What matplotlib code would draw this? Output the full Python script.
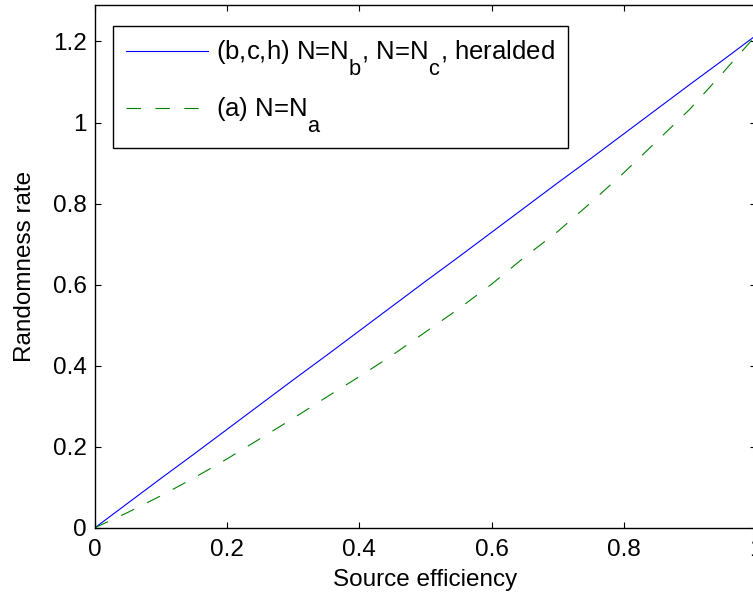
import numpy as np
import matplotlib
matplotlib.use("Agg")
import matplotlib.pyplot as plt
import matplotlib._mathtext as mathtext_internal

plt.rcParams["font.family"] = ["Liberation Sans", "DejaVu Sans"]
plt.rcParams["mathtext.default"] = "regular"
# larger, lower subscripts, closer to the original plotting tool
mathtext_internal.SHRINK_FACTOR = 0.85
mathtext_internal.FontConstantsBase.sub1 = 1.15

# source efficiency grid and the two randomness-rate curves
efficiency = [0.0, 0.05, 0.10, 0.15, 0.20, 0.25, 0.30, 0.35, 0.40, 0.45, 0.50,
              0.55, 0.60, 0.65, 0.70, 0.75, 0.80, 0.85, 0.90, 0.95, 1.0]
rate_bch = [0.0, 0.061, 0.122, 0.182, 0.243, 0.304, 0.365, 0.425, 0.486, 0.547, 0.608,
            0.668, 0.729, 0.790, 0.851, 0.911, 0.972, 1.033, 1.094, 1.154, 1.215]
rate_a = [0.0, 0.038, 0.079, 0.123, 0.170, 0.220, 0.270, 0.322, 0.373, 0.426, 0.483,
          0.540, 0.601, 0.668, 0.731, 0.802, 0.876, 0.954, 1.033, 1.123, 1.215]

label_bch = "(b,c,h) N=N$_b$, N=N$_c$, heralded"
label_a = "(a) N=N$_a$"

xticks = [0, 0.2, 0.4, 0.6, 0.8, 1.0]
xticklabels = ["0", "0.2", "0.4", "0.6", "0.8", "1"]
yticks = [0, 0.2, 0.4, 0.6, 0.8, 1.0, 1.2]
yticklabels = ["0", "0.2", "0.4", "0.6", "0.8", "1", "1.2"]

FS = 17.5
LEG_FS = 18.5

W, H = 753, 600
fig = plt.figure(figsize=(W / 100, H / 100), dpi=100)
# axes runs slightly past the right edge of the canvas
left, right, top, bottom = 95, 756, 5, 527.7
ax = fig.add_axes([left / W, 1 - bottom / H, (right - left) / W, (bottom - top) / H])

ax.plot(efficiency, rate_bch, color="#0000ff", lw=0.8, label=label_bch)
ax.plot(efficiency, rate_a, color="#008000", lw=0.8, ls=(0, (13, 13)), label=label_a)

ax.set_xlim(0, 1)
ax.set_ylim(0, 1.29)
ax.set_xticks(xticks)
ax.set_xticklabels(xticklabels)
ax.set_yticks(yticks)
ax.set_yticklabels(yticklabels)
ax.tick_params(direction="in", length=4, width=0.8, labelsize=FS,
               top=True, right=True)
ax.tick_params(axis="x", pad=8)
ax.tick_params(axis="y", pad=6)
for s in ax.spines.values():
    s.set_linewidth(1.0)

ax.set_xlabel("Source efficiency", fontsize=FS, labelpad=6)
ax.set_ylabel("Randomness rate", fontsize=FS, labelpad=12)

leg = ax.legend(loc="upper left", bbox_to_anchor=((113 - left) / (right - left), (bottom - 26) / (bottom - top)),
                fontsize=LEG_FS, frameon=True, fancybox=False, handlelength=3.2,
                handletextpad=0.3, labelspacing=0.7, borderpad=0.5, borderaxespad=0)
leg.get_frame().set_edgecolor("black")
leg.get_frame().set_linewidth(1.0)
leg.get_frame().set_alpha(1)

fig.savefig("out.png", dpi=100)
